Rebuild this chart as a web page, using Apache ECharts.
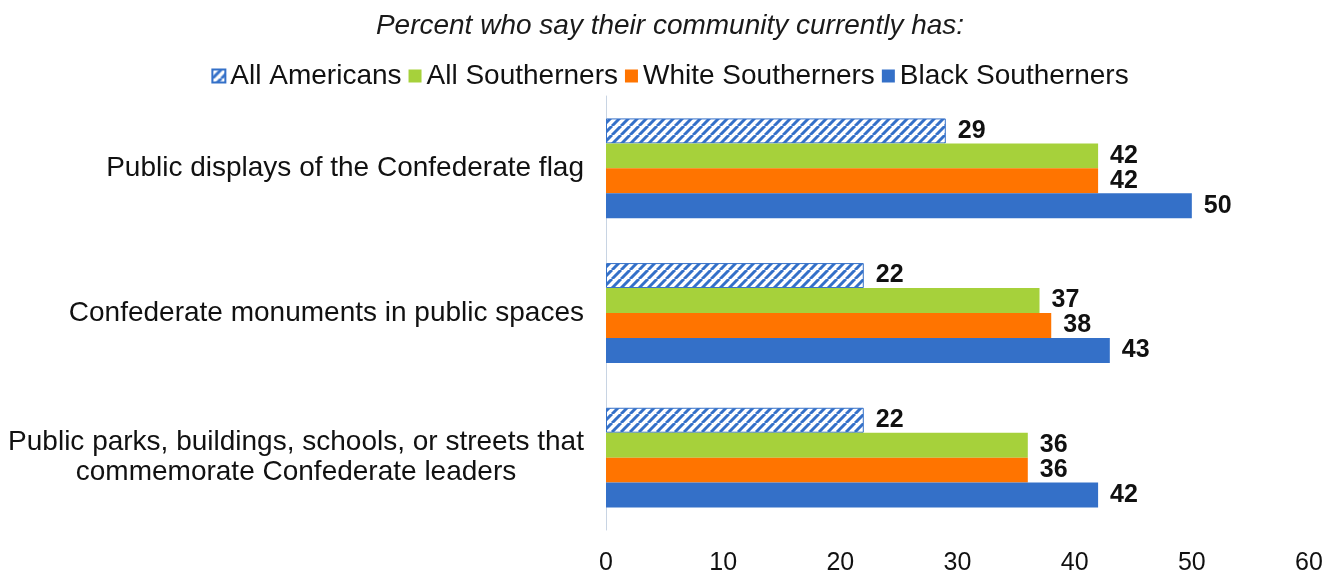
<!DOCTYPE html>
<html><head><meta charset="utf-8">
<script src="https://cdn.jsdelivr.net/npm/echarts@6/dist/echarts.min.js"></script>
<style>html,body{margin:0;padding:0;background:#fff}#c{width:1340px;height:578px}</style>
</head><body><div id="c"></div>
<script>
const categories = ['Public displays of the Confederate flag', 'Confederate monuments in public spaces', 'Public parks, buildings, schools, or streets that\ncommemorate Confederate leaders'];
const seriesNames = ['All Americans', 'All Southerners', 'White Southerners', 'Black Southerners'];
const allAmericans = [29, 22, 22];
const allSoutherners = [42, 37, 36];
const whiteSoutherners = [42, 38, 36];
const blackSoutherners = [50, 43, 42];
const xTicks = [0, 10, 20, 30, 40, 50, 60];

const BLUE = '#3470c8';
const FONT = "'Liberation Sans', Arial, sans-serif";
const CAT_SIZE = 28;

const pc = document.createElement('canvas');
pc.width = 9; pc.height = 9;
const g = pc.getContext('2d');
g.fillStyle = '#fff'; g.fillRect(0,0,9,9);
g.strokeStyle = BLUE; g.lineWidth = 3;
for (const o of [-9, 0, 9]) { g.beginPath(); g.moveTo(o, 9); g.lineTo(o + 9, 0); g.stroke(); }

// width of the widest line of multi-line labels, so lines can be centred within the block
const mc = document.createElement('canvas').getContext('2d');
mc.font = CAT_SIZE + 'px ' + FONT;
let blockW = 0;
categories.forEach(c => c.split('\n').forEach(s => { if (c.indexOf('\n') >= 0) blockW = Math.max(blockW, Math.ceil(mc.measureText(s).width)); }));

const colors = [{image: pc, repeat: 'repeat'}, '#a6d13b', '#ff7400', BLUE];
const values = [allAmericans, allSoutherners, whiteSoutherners, blackSoutherners];

const chart = echarts.init(document.getElementById('c'));
chart.setOption({
  animation: false,
  title: { text: 'Percent who say their community currently has:', left: 'center', top: 7,
    textStyle: { fontFamily: FONT, fontSize: 28, fontStyle: 'italic', fontWeight: 'normal', color: '#1a1a1a' } },
  legend: { top: 57, left: 'center', itemWidth: 13, itemHeight: 13, itemGap: 7,
    icon: 'rect', data: seriesNames,
    textStyle: { fontFamily: FONT, fontSize: 28, color: '#111', padding: [0,0,0,0] } },
  grid: { left: 606, right: 31, top: 96, bottom: 48, containLabel: false },
  xAxis: { type: 'value', min: 0, max: 60, interval: 10,
    axisLine: { show: false }, axisTick: { show: false }, splitLine: { show: false },
    axisLabel: { fontFamily: FONT, fontSize: 25, color: '#111', margin: 21,
      formatter: v => xTicks.includes(v) ? String(v) : '' } },
  yAxis: { type: 'category', data: categories, inverse: true,
    axisLine: { show: true, lineStyle: { color: '#c8d4e3', width: 1 } },
    axisTick: { show: false },
    axisLabel: { fontFamily: FONT, fontSize: CAT_SIZE, color: '#111', margin: 22, lineHeight: 30,
      formatter: v => v.indexOf('\n') >= 0 ? v.split('\n').map(s => '{c|' + s + '}').join('\n') : v,
      rich: { c: { fontFamily: FONT, fontSize: CAT_SIZE, color: '#111', width: blockW, align: 'center', lineHeight: 30 } } } },
  series: seriesNames.map((n, i) => ({
    name: n, type: 'bar', data: values[i],
    barGap: '0%', barCategoryGap: '31%',
    itemStyle: { color: colors[i], borderColor: i === 0 ? BLUE : 'transparent', borderWidth: i === 0 ? 1 : 0 },
    label: { show: true, position: 'right', distance: 12, fontFamily: FONT, fontSize: 25, fontWeight: 'bold', color: '#111' }
  }))
});
</script></body></html>
